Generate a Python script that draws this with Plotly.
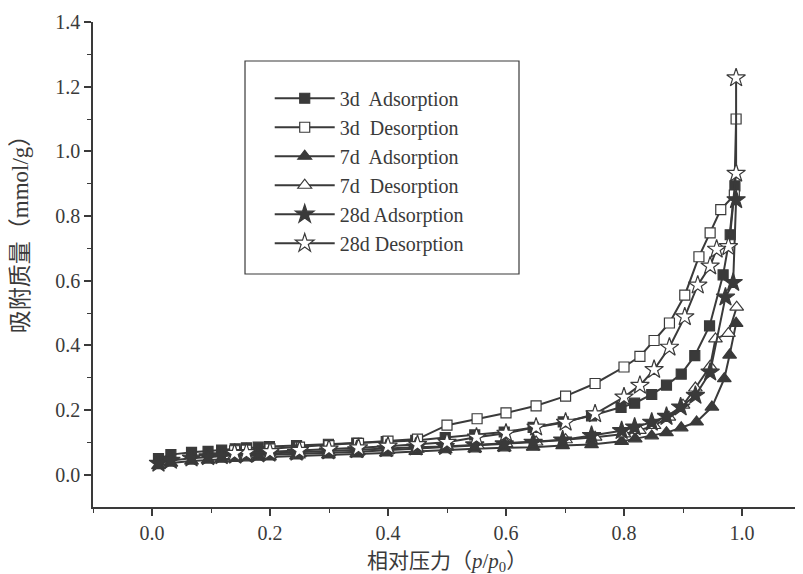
import plotly.graph_objects as go

# ---- data (relative pressure p/p0, adsorbed amount mmol/g) ----
x_3d_ads = [0.011, 0.032, 0.067, 0.095, 0.118, 0.141, 0.160, 0.180, 0.199, 0.245, 0.299, 0.347, 0.397, 0.447,
            0.497, 0.547, 0.597, 0.646, 0.697, 0.745, 0.795, 0.818, 0.847, 0.872, 0.897, 0.920, 0.945, 0.968,
            0.980, 0.988]
y_3d_ads = [0.050, 0.062, 0.069, 0.072, 0.076, 0.080, 0.083, 0.085, 0.087, 0.090, 0.094, 0.098, 0.102, 0.106,
            0.115, 0.123, 0.132, 0.146, 0.163, 0.182, 0.208, 0.221, 0.248, 0.277, 0.311, 0.368, 0.460, 0.618,
            0.742, 0.893]

x_3d_des = [0.990, 0.987, 0.964, 0.946, 0.927, 0.903, 0.877, 0.851, 0.827, 0.800, 0.751, 0.701, 0.651, 0.600,
            0.551, 0.500, 0.450, 0.400, 0.350, 0.300, 0.250, 0.200, 0.160, 0.140]
y_3d_des = [1.100, 0.865, 0.820, 0.748, 0.674, 0.555, 0.469, 0.415, 0.366, 0.333, 0.282, 0.243, 0.213, 0.191,
            0.173, 0.153, 0.110, 0.104, 0.097, 0.090, 0.085, 0.080, 0.076, 0.074]

x_7d_ads = [0.011, 0.032, 0.067, 0.095, 0.118, 0.141, 0.160, 0.180, 0.199, 0.245, 0.299, 0.347, 0.397, 0.447,
            0.497, 0.547, 0.597, 0.646, 0.696, 0.745, 0.796, 0.819, 0.847, 0.872, 0.897, 0.923, 0.949, 0.970,
            0.979, 0.990]
y_7d_ads = [0.028, 0.036, 0.042, 0.045, 0.048, 0.050, 0.052, 0.054, 0.055, 0.058, 0.061, 0.064, 0.067, 0.072,
            0.077, 0.080, 0.083, 0.085, 0.090, 0.093, 0.103, 0.111, 0.120, 0.130, 0.145, 0.163, 0.209, 0.297,
            0.370, 0.468]

x_7d_des = [0.991, 0.977, 0.955, 0.946, 0.921, 0.900, 0.876, 0.851, 0.826, 0.800, 0.751, 0.701, 0.651, 0.600,
            0.551, 0.500, 0.450, 0.400, 0.350, 0.300, 0.250, 0.200, 0.160, 0.140]
y_7d_des = [0.518, 0.437, 0.420, 0.335, 0.268, 0.215, 0.178, 0.152, 0.137, 0.126, 0.116, 0.108, 0.101, 0.096,
            0.091, 0.086, 0.079, 0.075, 0.071, 0.068, 0.065, 0.062, 0.060, 0.058]

x_28d_ads = [0.011, 0.032, 0.067, 0.095, 0.118, 0.141, 0.160, 0.180, 0.199, 0.245, 0.299, 0.347, 0.397, 0.447,
             0.497, 0.547, 0.597, 0.646, 0.696, 0.745, 0.796, 0.818, 0.847, 0.872, 0.896, 0.921, 0.946, 0.972,
             0.985, 0.990]
y_28d_ads = [0.035, 0.044, 0.051, 0.055, 0.058, 0.060, 0.062, 0.064, 0.066, 0.069, 0.073, 0.077, 0.080, 0.085,
             0.087, 0.092, 0.095, 0.100, 0.107, 0.121, 0.136, 0.147, 0.162, 0.180, 0.209, 0.245, 0.317, 0.549,
             0.594, 0.850]

x_28d_des = [0.990, 0.990, 0.977, 0.957, 0.946, 0.925, 0.903, 0.877, 0.851, 0.827, 0.800, 0.751, 0.701, 0.651,
             0.600, 0.550, 0.500, 0.450, 0.400, 0.350, 0.300, 0.250, 0.200, 0.160, 0.140]
y_28d_des = [1.227, 0.932, 0.705, 0.697, 0.645, 0.586, 0.488, 0.394, 0.325, 0.276, 0.240, 0.188, 0.162, 0.147,
             0.128, 0.116, 0.100, 0.093, 0.088, 0.083, 0.079, 0.075, 0.071, 0.068, 0.066]

series_names = ["3d  Adsorption", "3d  Desorption", "7d  Adsorption", "7d  Desorption",
                "28d Adsorption", "28d Desorption"]
x_ticks = [0.0, 0.2, 0.4, 0.6, 0.8, 1.0]
y_ticks = [0.0, 0.2, 0.4, 0.6, 0.8, 1.0, 1.2, 1.4]

INK = "#3a3a3a"
SERIF = "Liberation Serif, Times New Roman, serif"
MIXED = "Liberation Serif, Noto Sans CJK SC, serif"

series = [
    (x_3d_ads, y_3d_ads, "square", 10, INK),
    (x_3d_des, y_3d_des, "square", 10, "white"),
    (x_7d_ads, y_7d_ads, "triangle-up", 12, INK),
    (x_7d_des, y_7d_des, "triangle-up", 12, "white"),
    (x_28d_ads, y_28d_ads, "star", 14, INK),
    (x_28d_des, y_28d_des, "star", 14, "white"),
]

fig = go.Figure()
for i, (xs, ys, sym, size, fill) in enumerate(series):
    fig.add_trace(go.Scatter(
        x=xs, y=ys, mode="lines+markers", name=series_names[i],
        legendgroup=f"g{i}",
        line=dict(color=INK, width=2),
        marker=dict(symbol=sym, size=size, color=fill, line=dict(color=INK, width=1.2)),
    ))

# the page body has an 8px margin, so the figure is made 8px smaller
fig.update_layout(
    width=795, height=566,
    margin=dict(l=85, r=2, t=14, b=67),
    paper_bgcolor="white", plot_bgcolor="white",
    font=dict(family=SERIF, size=20, color=INK),
    showlegend=True,
    legend=dict(x=0.2496, y=0.883, xanchor="left", yanchor="top",
                bgcolor="rgba(0,0,0,0)", borderwidth=0,
                font=dict(family=SERIF, size=20, color=INK),
                tracegroupgap=0, itemwidth=60),
    shapes=[dict(type="rect", xref="paper", yref="paper",
                 x0=0.2147, x1=0.6017, y0=0.4804, y1=0.9196,
                 line=dict(color=INK, width=1.2), fillcolor="rgba(0,0,0,0)")],
    annotations=[
        dict(text="相对压力（<i>p</i>/<i>p</i><sub>0</sub>）", xref="paper", yref="paper",
             x=0.5, y=-0.113, xanchor="center", yanchor="middle", showarrow=False,
             font=dict(family=MIXED, size=21, color=INK)),
        dict(text="吸附质量（mmol/g）", xref="paper", yref="paper",
             x=-0.103, y=0.575, xanchor="center", yanchor="middle", showarrow=False,
             textangle=-90, font=dict(family=MIXED, size=23, color=INK)),
    ],
)

fig.update_xaxes(
    range=[-0.1, 1.1], tickmode="array", tickvals=x_ticks,
    ticktext=[f"{v:.1f}" for v in x_ticks],
    showgrid=False, zeroline=False, showline=True, linecolor=INK, linewidth=1.5,
    ticks="outside", ticklen=7, tickwidth=1.5, tickcolor=INK,
    minor=dict(tickmode="array", tickvals=[-0.1, 0.1, 0.3, 0.5, 0.7, 0.9, 1.1],
               ticks="outside", ticklen=4, tickwidth=1.2, tickcolor=INK),
    tickfont=dict(family=SERIF, size=20, color=INK),
)
fig.update_yaxes(
    range=[-0.1, 1.4], tickmode="array", tickvals=y_ticks,
    ticktext=[f"{v:.1f}" for v in y_ticks],
    showgrid=False, zeroline=False, showline=True, linecolor=INK, linewidth=1.5,
    ticks="outside", ticklen=7, tickwidth=1.5, tickcolor=INK,
    minor=dict(tickmode="array", tickvals=[0.1, 0.3, 0.5, 0.7, 0.9, 1.1, 1.3],
               ticks="outside", ticklen=4, tickwidth=1.2, tickcolor=INK),
    tickfont=dict(family=SERIF, size=20, color=INK),
)

fig.write_html("out.html")
